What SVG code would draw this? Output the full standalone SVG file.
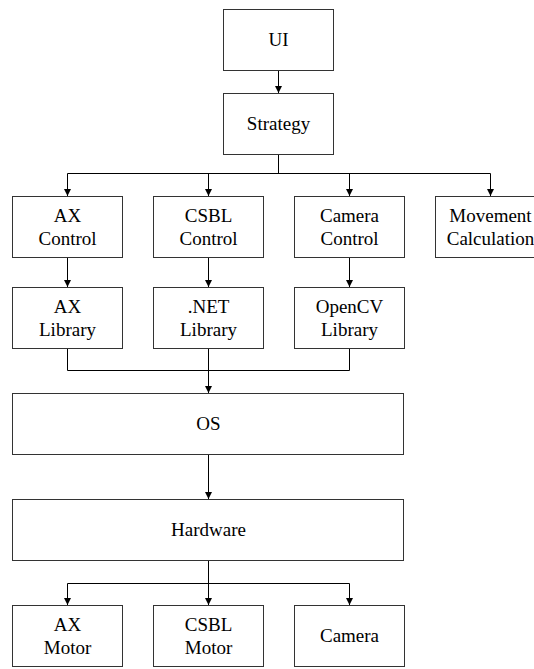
<svg xmlns="http://www.w3.org/2000/svg" width="534" height="669" viewBox="0 0 534 669">
<defs>
<style>
.box{fill:#fff;stroke:#333;stroke-width:1}
.t{font-size:19px;fill:#000;text-anchor:middle}
.c{fill:none;stroke:#000;stroke-width:1}
</style>
<marker id="ah" markerWidth="8" markerHeight="8" refX="7" refY="3.5" orient="auto" markerUnits="userSpaceOnUse">
<path d="M0,0 L7,3.5 L0,7 Z" fill="#000"/>
</marker>
</defs>
<rect width="534" height="669" fill="#fff"/>
<g id="connectors">
<line class="c" x1="278.5" y1="70.5" x2="278.5" y2="93" marker-end="url(#ah)"/>
<polyline class="c" points="278.5,154.5 278.5,173.5"/>
<line class="c" x1="67.5" y1="173.5" x2="490.5" y2="173.5"/>
<line class="c" x1="67.5" y1="173.5" x2="67.5" y2="196" marker-end="url(#ah)"/>
<line class="c" x1="208.5" y1="173.5" x2="208.5" y2="196" marker-end="url(#ah)"/>
<line class="c" x1="349.5" y1="173.5" x2="349.5" y2="196" marker-end="url(#ah)"/>
<line class="c" x1="490.5" y1="173.5" x2="490.5" y2="196" marker-end="url(#ah)"/>
<line class="c" x1="67.5" y1="257.5" x2="67.5" y2="287" marker-end="url(#ah)"/>
<line class="c" x1="208.5" y1="257.5" x2="208.5" y2="287" marker-end="url(#ah)"/>
<line class="c" x1="349.5" y1="257.5" x2="349.5" y2="287" marker-end="url(#ah)"/>
<polyline class="c" points="67.5,348.5 67.5,370.5 349.5,370.5 349.5,348.5"/>
<line class="c" x1="208.5" y1="348.5" x2="208.5" y2="393" marker-end="url(#ah)"/>
<line class="c" x1="208.5" y1="454.5" x2="208.5" y2="499" marker-end="url(#ah)"/>
<line class="c" x1="208.5" y1="560.5" x2="208.5" y2="605" marker-end="url(#ah)"/>
<line class="c" x1="67.5" y1="583.5" x2="349.5" y2="583.5"/>
<line class="c" x1="67.5" y1="583.5" x2="67.5" y2="605" marker-end="url(#ah)"/>
<line class="c" x1="349.5" y1="583.5" x2="349.5" y2="605" marker-end="url(#ah)"/>
</g>
<g font-family="Liberation Serif, Tinos, Times New Roman, serif">
<g id="ui"><rect class="box" x="223.5" y="9.5" width="110" height="61"/><text class="t" x="278.5" y="46">UI</text></g>
<g id="strategy"><rect class="box" x="223.5" y="93.5" width="110" height="61"/><text class="t" x="278.5" y="130">Strategy</text></g>
<g id="ax-control"><rect class="box" x="12.5" y="196.5" width="110" height="61"/><text class="t" x="67.5" y="221.5">AX</text><text class="t" x="67.5" y="244.5">Control</text></g>
<g id="csbl-control"><rect class="box" x="153.5" y="196.5" width="110" height="61"/><text class="t" x="208.5" y="221.5">CSBL</text><text class="t" x="208.5" y="244.5">Control</text></g>
<g id="camera-control"><rect class="box" x="294.5" y="196.5" width="110" height="61"/><text class="t" x="349.5" y="221.5">Camera</text><text class="t" x="349.5" y="244.5">Control</text></g>
<g id="movement-calculation"><rect class="box" x="435.5" y="196.5" width="110" height="61"/><text class="t" x="490.5" y="221.5">Movement</text><text class="t" x="490.5" y="244.5">Calculation</text></g>
<g id="ax-library"><rect class="box" x="12.5" y="287.5" width="110" height="61"/><text class="t" x="67.5" y="312.5">AX</text><text class="t" x="67.5" y="335.5">Library</text></g>
<g id="net-library"><rect class="box" x="153.5" y="287.5" width="110" height="61"/><text class="t" x="208.5" y="312.5">.NET</text><text class="t" x="208.5" y="335.5">Library</text></g>
<g id="opencv-library"><rect class="box" x="294.5" y="287.5" width="110" height="61"/><text class="t" x="349.5" y="312.5">OpenCV</text><text class="t" x="349.5" y="335.5">Library</text></g>
<g id="os"><rect class="box" x="12.5" y="393.5" width="391" height="61"/><text class="t" x="208.5" y="430">OS</text></g>
<g id="hardware"><rect class="box" x="12.5" y="499.5" width="391" height="61"/><text class="t" x="208.5" y="536">Hardware</text></g>
<g id="ax-motor"><rect class="box" x="12.5" y="605.5" width="110" height="61"/><text class="t" x="67.5" y="630.5">AX</text><text class="t" x="67.5" y="653.5">Motor</text></g>
<g id="csbl-motor"><rect class="box" x="153.5" y="605.5" width="110" height="61"/><text class="t" x="208.5" y="630.5">CSBL</text><text class="t" x="208.5" y="653.5">Motor</text></g>
<g id="camera"><rect class="box" x="294.5" y="605.5" width="110" height="61"/><text class="t" x="349.5" y="642">Camera</text></g>
</g>
</svg>
